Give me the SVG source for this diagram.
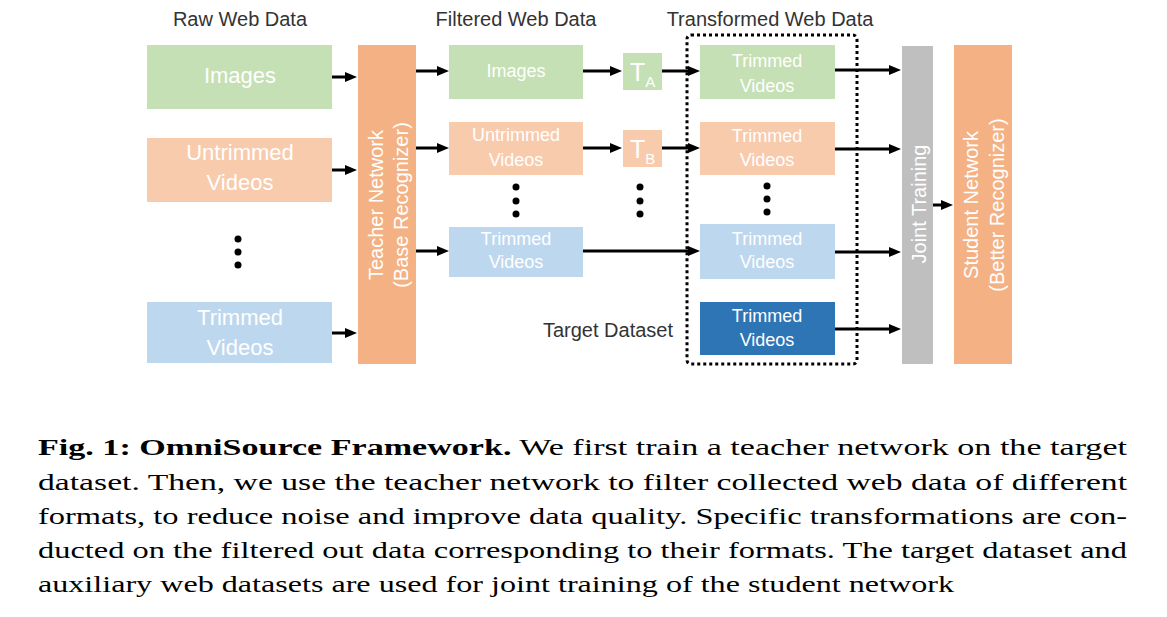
<svg xmlns="http://www.w3.org/2000/svg" width="1167" height="617" viewBox="0 0 1167 617">
<style>
.hdr{font-family:"Liberation Sans",Arial,sans-serif;font-size:20px;fill:#333}
.big{font-family:"Liberation Sans",Arial,sans-serif;font-size:22px;fill:#fff;text-anchor:middle}
.sm{font-family:"Liberation Sans",Arial,sans-serif;font-size:18px;fill:#fff;text-anchor:middle}
.rot{font-family:"Liberation Sans",Arial,sans-serif;font-size:20px;fill:#fff;text-anchor:middle}
.tt{font-family:"Liberation Sans",Arial,sans-serif;font-size:25px;fill:#fff}
.green{fill:#C5E0B4}.peach{fill:#F8CBAD}.lblue{fill:#BDD7EE}.dblue{fill:#2E75B6}.orange{fill:#F4B183}.gray{fill:#BFBFBF}
.conn line{stroke:#000;stroke-width:3;marker-end:url(#ah)}
.dot{fill:#000}
.cap{font-family:"Liberation Serif","Times New Roman",serif;font-size:23px;fill:#000}
</style>
<defs>
<marker id="ah" markerUnits="userSpaceOnUse" markerWidth="12" markerHeight="10" refX="4" refY="5" orient="auto">
<path d="M0,0 L12,5 L0,10 z" fill="#000"/>
</marker>
</defs>
<rect width="1167" height="617" fill="#fff"/>

<g id="headers">
<text class="hdr" x="240" y="26" text-anchor="middle">Raw Web Data</text>
<text class="hdr" x="516" y="26" text-anchor="middle">Filtered Web Data</text>
<text class="hdr" x="770" y="26" text-anchor="middle">Transformed Web Data</text>
<text class="hdr" x="673" y="337" text-anchor="end">Target Dataset</text>
</g>

<g id="raw-images"><rect class="green" x="147" y="45" width="185" height="64"/><text class="big" x="240" y="83">Images</text></g>
<g id="raw-untrimmed"><rect class="peach" x="147" y="138" width="185" height="64"/><text class="big" x="240" y="160">Untrimmed</text><text class="big" x="240" y="190">Videos</text></g>
<g id="raw-dots"><circle class="dot" cx="238" cy="239" r="3.5"/><circle class="dot" cx="238" cy="252" r="3.5"/><circle class="dot" cx="238" cy="265" r="3.5"/></g>
<g id="raw-trimmed"><rect class="lblue" x="147" y="302" width="185" height="61"/><text class="big" x="240" y="325">Trimmed</text><text class="big" x="240" y="355">Videos</text></g>

<g id="teacher"><rect class="orange" x="358" y="45" width="58" height="319"/>
<g transform="translate(387,205) rotate(-90)"><text class="rot" x="0" y="-4">Teacher Network</text><text class="rot" x="0" y="21">(Base Recognizer)</text></g></g>

<g id="filt-images"><rect class="green" x="449" y="45" width="134" height="54"/><text class="sm" x="516" y="77">Images</text></g>
<g id="filt-untrimmed"><rect class="peach" x="449" y="122" width="134" height="53"/><text class="sm" x="516" y="141">Untrimmed</text><text class="sm" x="516" y="166">Videos</text></g>
<g id="filt-dots"><circle class="dot" cx="516" cy="187" r="3.5"/><circle class="dot" cx="516" cy="201" r="3.5"/><circle class="dot" cx="516" cy="214" r="3.5"/></g>
<g id="filt-trimmed"><rect class="lblue" x="449" y="227" width="134" height="50"/><text class="sm" x="516" y="245">Trimmed</text><text class="sm" x="516" y="268">Videos</text></g>

<g id="ta"><rect class="green" x="623" y="53" width="39" height="37"/><text class="tt" x="630" y="81">T<tspan font-size="15" dy="6">A</tspan></text></g>
<g id="tb"><rect class="peach" x="623" y="130" width="39" height="37"/><text class="tt" x="630" y="158">T<tspan font-size="15" dy="6">B</tspan></text></g>
<g id="t-dots"><circle class="dot" cx="640" cy="187" r="3.5"/><circle class="dot" cx="640" cy="201" r="3.5"/><circle class="dot" cx="640" cy="214" r="3.5"/></g>

<g id="transformed-group"><rect x="687" y="35" width="170" height="329" rx="4" fill="none" stroke="#000" stroke-width="3" stroke-dasharray="3 3"/></g>
<g id="tr-green"><rect class="green" x="700" y="45" width="135" height="54"/><text class="sm" x="767" y="67">Trimmed</text><text class="sm" x="767" y="92">Videos</text></g>
<g id="tr-peach"><rect class="peach" x="700" y="122" width="135" height="53"/><text class="sm" x="767" y="142">Trimmed</text><text class="sm" x="767" y="166">Videos</text></g>
<g id="tr-dots"><circle class="dot" cx="767" cy="186" r="3.5"/><circle class="dot" cx="767" cy="199" r="3.5"/><circle class="dot" cx="767" cy="212" r="3.5"/></g>
<g id="tr-lblue"><rect class="lblue" x="700" y="224" width="135" height="55"/><text class="sm" x="767" y="245">Trimmed</text><text class="sm" x="767" y="268">Videos</text></g>
<g id="target"><rect class="dblue" x="700" y="302" width="135" height="53"/><text class="sm" x="767" y="322">Trimmed</text><text class="sm" x="767" y="346">Videos</text></g>

<g id="joint"><rect class="gray" x="902" y="46" width="31" height="318"/>
<g transform="translate(917.5,204) rotate(-90)"><text class="rot" x="0" y="8">Joint Training</text></g></g>

<g id="student"><rect class="orange" x="954" y="45" width="58" height="319"/>
<g transform="translate(983,205) rotate(-90)"><text class="rot" x="0" y="-5">Student Network</text><text class="rot" x="0" y="21">(Better Recognizer)</text></g></g>

<g id="connectors" class="conn">
<line x1="332" y1="77" x2="349" y2="77"/>
<line x1="332" y1="170" x2="349" y2="170"/>
<line x1="332" y1="333" x2="349" y2="333"/>
<line x1="416" y1="71" x2="441" y2="71"/>
<line x1="416" y1="148" x2="441" y2="148"/>
<line x1="416" y1="251" x2="441" y2="251"/>
<line x1="583" y1="71" x2="614" y2="71"/>
<line x1="583" y1="148" x2="614" y2="148"/>
<line x1="662" y1="71" x2="692" y2="71"/>
<line x1="662" y1="148" x2="692" y2="148"/>
<line x1="583" y1="251" x2="692" y2="251"/>
<line x1="835" y1="70" x2="893" y2="70"/>
<line x1="835" y1="149" x2="893" y2="149"/>
<line x1="835" y1="252" x2="893" y2="252"/>
<line x1="835" y1="329" x2="893" y2="329"/>
<line x1="933" y1="205" x2="945" y2="205"/>
</g>

<g id="caption" class="cap">
<text x="38" y="455" textLength="1089" lengthAdjust="spacingAndGlyphs"><tspan font-weight="bold">Fig. 1: OmniSource Framework.</tspan> We first train a teacher network on the target</text>
<text x="38" y="490" textLength="1089" lengthAdjust="spacingAndGlyphs">dataset. Then, we use the teacher network to filter collected web data of different</text>
<text x="38" y="524" textLength="1089" lengthAdjust="spacingAndGlyphs">formats, to reduce noise and improve data quality. Specific transformations are con-</text>
<text x="38" y="558" textLength="1089" lengthAdjust="spacingAndGlyphs">ducted on the filtered out data corresponding to their formats. The target dataset and</text>
<text x="38" y="592" textLength="916" lengthAdjust="spacingAndGlyphs">auxiliary web datasets are used for joint training of the student network</text>
</g>
</svg>
